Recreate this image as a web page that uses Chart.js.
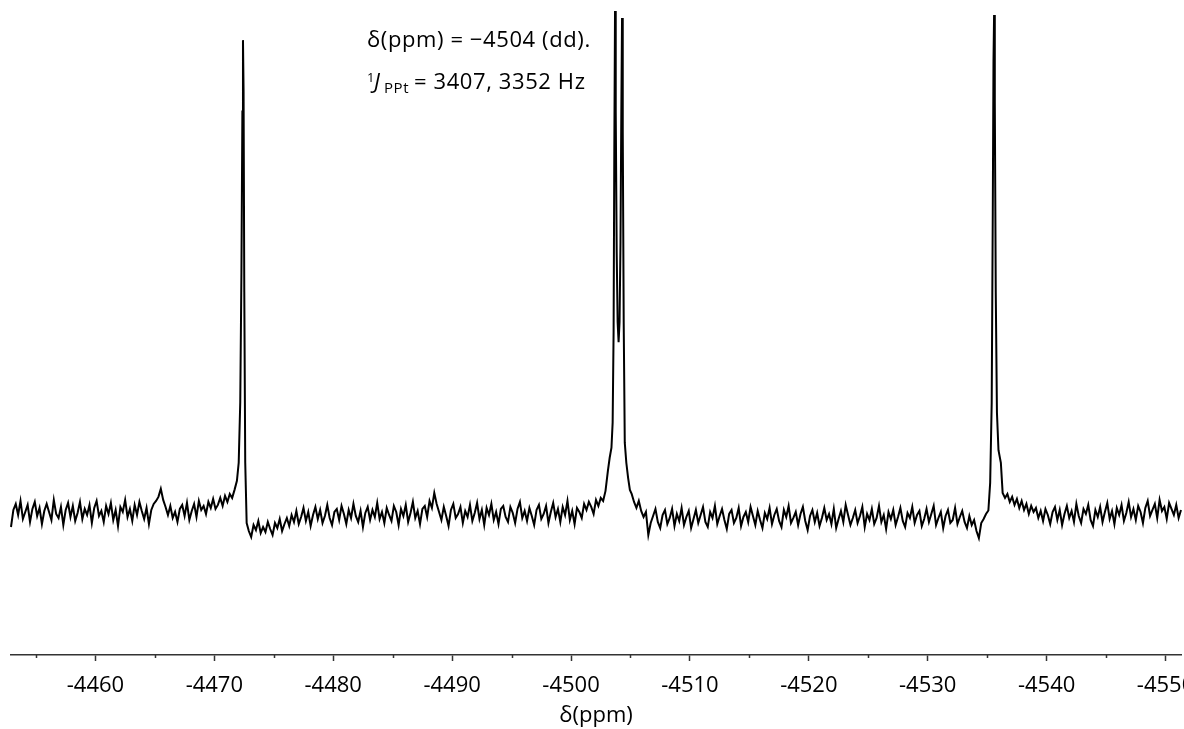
<!DOCTYPE html>
<html>
<head>
<meta charset="utf-8">
<script src="https://cdn.jsdelivr.net/npm/chart.js@4.4.1/dist/chart.umd.min.js"></script>
<style>
  html, body { margin: 0; padding: 0; background: #fff; overflow: hidden; }
  #wrap { width: 1200px; height: 729px; }
</style>
</head>
<body>
<div id="wrap"><canvas id="spectrum" width="1200" height="729"></canvas></div>
<script>
// spectrum sampled every 0.2 ppm from -4452.9 ppm, intensity in % of tallest line
// null = region covered by the peak lists below
const shiftStart = -4452.9;
const shiftStep = -0.2;
const baseline = [
  -2.8, 0.6, 1.8, -0.4, 2.4, -1.2, 0.2, 1.6, -1.8, 0.8,
  2.2, -0.6, 1.0, -2.2, 0.4, 1.8, 0.2, -1.4, 2.6, -0.2,
  -1.0, 1.2, -2.4, 0.6, 2.0, -0.8, 1.4, -1.6, 0.0, 2.2,
  -1.2, 0.8, -0.4, 1.6, -2.0, 1.0, 2.4, -0.6, 0.4, -1.8,
  1.4, -0.2, 2.0, -1.4, 0.6, -2.6, 1.2, 0.2, 2.6, -0.8,
  0.8, -1.6, 1.6, -0.4, 2.2, 0.4, -1.2, 1.0, -2.2, 0.6,
  1.8, 2.4, 3.2, 4.8, 2.6, 1.2, -0.4, 1.4, -1.0, 0.2,
  -1.8, 0.8, 1.6, -0.6, 2.0, -1.4, 0.4, 1.8, -0.8, 2.4,
  0.6, 1.4, -0.2, 2.2, 1.0, 2.8, 0.8, 1.6, 3.0, 1.4,
  3.4, 2.2, 3.8, 3.0, 4.6, 6.4, null, null, null, null,
  -3.6, -4.8, -2.4, -3.4, -1.6, -4.0, -2.8, -3.8, -1.8, -3.2,
  -4.4, -2.0, -3.0, -1.2, -3.6, -2.2, -1.0, -2.6, -0.4, -1.8,
  0.4, -2.2, -0.8, 1.0, -1.6, 0.2, -2.6, -0.4, 1.2, -1.2,
  0.6, -2.0, -0.6, 1.6, -1.0, -2.4, 0.2, 0.8, -1.4, 1.4,
  -0.2, -2.2, 0.6, -1.0, 1.8, -0.6, -1.8, 0.4, -2.8, 0.0,
  1.2, -1.4, 0.6, -0.8, 2.0, -1.2, 0.2, -2.0, 1.0, -0.4,
  -1.6, 1.4, 0.2, -2.4, 0.8, -0.6, 1.6, -1.8, 0.0, 2.2,
  -1.0, 0.4, -2.2, 0.8, 1.4, -0.8, 2.4, 1.0, 4.0, 1.8,
  0.2, -1.4, 1.2, -0.6, -2.6, 0.6, 1.8, -1.0, -0.2, 1.2,
  -2.0, 0.4, -0.8, 1.6, -1.6, 0.0, 2.0, -1.2, 0.6, -2.4,
  1.0, -0.4, 1.8, -1.4, 0.2, -2.2, 0.8, 1.4, -0.8, -1.8,
  1.2, 0.0, -2.0, 0.8, 2.2, -1.0, 0.4, -1.6, 1.0, -0.6,
  -2.4, 0.6, 1.6, -1.2, -0.2, 1.4, -2.0, 0.2, 2.0, -0.8,
  0.8, -1.8, 1.2, -0.4, 2.4, -1.4, 0.4, -2.2, 1.0, 0.2,
  -1.0, 1.8, 0.6, 2.2, 1.2, -0.2, 2.6, 1.4, 3.0, 2.4,
  4.4, 8.4, null, null, null, null, null, null, null, null,
  null, 3.8, 2.2, 1.0, 2.4, 0.4, -0.8, 0.2, -4.4, -2.0,
  -0.6, 0.8, -1.8, -3.0, -0.4, 0.6, -2.2, -1.0, 0.8, -2.6,
  -0.2, -1.6, 1.0, -2.4, -0.8, 0.4, -3.0, -1.2, 0.6, -2.0,
  -0.4, 1.2, -1.8, -2.8, 0.2, -1.0, 1.4, -2.2, -0.6, 0.8,
  -1.4, -3.2, -0.2, 0.6, -2.0, -1.0, 1.0, -2.6, -0.8, 0.2,
  -1.8, 1.2, -0.6, -2.4, 0.4, -1.4, -3.0, 0.0, -1.2, 1.0,
  -2.2, -0.4, 0.8, -1.6, -2.8, 0.6, -0.8, 1.4, -2.0, -1.0,
  0.2, -2.4, -0.2, 1.2, -1.6, -3.4, -0.6, 0.6, -1.8, 0.0,
  -2.6, -1.0, 1.0, -1.4, -0.2, -2.2, 0.8, -3.0, -1.2, 0.4,
  -1.8, 1.6, -0.4, -2.4, -1.0, 0.6, -2.0, -0.6, 1.2, -2.8,
  -0.2, -1.4, 0.8, -2.2, -1.0, 1.4, -1.8, -0.4, -3.2, 0.2,
  -1.2, 0.6, -2.4, -0.8, 1.0, -1.6, -2.8, 0.0, -1.0, 1.2,
  -2.0, -0.4, 0.4, -2.6, -1.2, 0.8, -1.8, -0.2, 1.4, -2.4,
  -1.0, 0.2, -3.0, -0.6, 0.6, -2.0, -1.4, 1.0, -2.2, -0.8,
  0.4, -1.8, -3.0, -0.6, -2.4, -1.4, -3.6, -5.0, -2.0, -1.2,
  -0.2, null, null, null, null, null, null, 4.0, 3.0, 3.8,
  2.2, 3.2, 1.6, 2.8, 1.0, 2.4, 0.6, 1.8, -0.2, 1.4,
  0.2, 1.0, -1.0, 0.4, -1.6, 0.8, -0.4, -2.2, 0.2, 1.2,
  -1.4, 0.6, -2.4, -0.2, 1.4, -1.0, 0.4, -1.8, 1.8, -0.6,
  -2.0, 0.8, -0.2, 1.6, -1.4, -2.6, 0.6, -0.8, 1.2, -1.8,
  0.2, 2.0, -1.2, 0.4, -2.2, 1.0, -0.4, 1.6, -1.6, 0.0,
  2.2, -0.8, 0.8, -1.4, 1.4, 0.2, -2.0, 1.0, 2.4, -0.6,
  0.6, 1.8, -1.0, 2.6, 0.4, 1.2, -1.2, 2.0, 0.8, -0.4,
  1.6, -1.0, 0.6
];

// the three resonances, read point by point
const peak1Shift = [-4472.05, -4472.18, -4472.28, -4472.36, -4472.41, -4472.46, -4472.52, -4472.60, -4472.72];
const peak1Int   = [10, 22, 48, 80, 94.2, 84, 44, 10, -2.0];

const peak2Shift = [-4503.25, -4503.40, -4503.50, -4503.58, -4503.64, -4503.70, -4503.76, -4503.84, -4503.92, -4504.00,
                    -4504.08, -4504.16, -4504.23, -4504.29, -4504.35, -4504.43, -4504.52, -4504.65, -4504.80, -4504.95];
const peak2Int   = [11, 13, 18, 36, 72, 100, 80, 52, 38, 34,
                    38, 54, 80, 98.6, 76, 38, 14, 10, 7, 4.6];

const peak3Shift = [-4535.10, -4535.25, -4535.38, -4535.47, -4535.53, -4535.58, -4535.64, -4535.72, -4535.82, -4535.95, -4536.15];
const peak3Int   = [0.5, 6, 22, 60, 90, 99.2, 82, 44, 20, 12.5, 10];

const tickValues = [-4460, -4470, -4480, -4490, -4500, -4510, -4520, -4530, -4540, -4550];
const minorTicks = [-4455, -4465, -4475, -4485, -4495, -4505, -4515, -4525, -4535, -4545];

const points = [];
baseline.forEach((v, i) => {
    if (v !== null) points.push({ x: +(shiftStart + i * shiftStep).toFixed(2), y: v });
});
[[peak1Shift, peak1Int], [peak2Shift, peak2Int], [peak3Shift, peak3Int]].forEach(([s, h]) => {
    s.forEach((x, k) => points.push({ x: x, y: h[k] }));
});
points.sort((a, b) => b.x - a.x);

const FONT = 'Open Sans';

const extras = {
    id: 'extras',
    afterDraw(chart) {
        const c = chart.ctx;
        const xs = chart.scales.x;
        c.save();
        // minor ticks
        c.strokeStyle = '#333';
        c.lineWidth = 1.5;
        minorTicks.forEach(v => {
            const px = Math.round(xs.getPixelForValue(v)) + 0.5;
            c.beginPath();
            c.moveTo(px, xs.top);
            c.lineTo(px, xs.top + 3);
            c.stroke();
        });
        // annotation
        c.fillStyle = '#000';
        c.textBaseline = 'alphabetic';
        c.letterSpacing = '0.6px';
        c.font = '22px "' + FONT + '"';
        c.fillText('\u03B4(ppm) = \u22124504 (dd).', 367, 47);
        c.font = '13px "' + FONT + '"';
        c.fillText('1', 367, 82);
        c.font = 'italic 22px "' + FONT + '"';
        c.fillText('J', 374, 89);
        c.font = '15px "' + FONT + '"';
        c.fillText('PPt', 384, 93);
        c.font = '22px "' + FONT + '"';
        c.fillText('= 3407, 3352 Hz', 414, 89);
        c.restore();
    }
};

const ctx = document.getElementById('spectrum').getContext('2d');
new Chart(ctx, {
    type: 'line',
    data: {
        datasets: [{
            data: points,
            borderColor: '#000',
            borderWidth: 2,
            pointRadius: 0,
            tension: 0,
            fill: false,
            clip: false
        }]
    },
    options: {
        responsive: false,
        animation: false,
        devicePixelRatio: 1,
        layout: { padding: { left: 11, right: 19, top: 5, bottom: 0 } },
        plugins: { legend: { display: false }, tooltip: { enabled: false } },
        scales: {
            x: {
                type: 'linear',
                reverse: true,
                min: -4551.3,
                max: -4452.9,
                afterBuildTicks: s => { s.ticks = tickValues.map(v => ({ value: v })); },
                afterFit: s => {
                    s.height = 74;
                    s.paddingLeft = 0;
                    s.paddingRight = 0;
                },
                border: { display: true, color: '#333', width: 1.5 },
                grid: { drawOnChartArea: false, drawTicks: true, tickLength: 6, tickColor: '#333', tickWidth: 1.5 },
                ticks: {
                    autoSkip: false,
                    maxRotation: 0,
                    padding: 12,
                    color: '#000',
                    font: { family: FONT, size: 22 },
                    callback: v => String(v)
                },
                title: {
                    display: true,
                    text: '\u03B4(ppm)',
                    color: '#000',
                    font: { family: FONT, size: 22 },
                    padding: { top: 0, bottom: 0 }
                }
            },
            y: { display: false, min: -28.3, max: 101.2 }
        }
    },
    plugins: [extras]
});
</script>
</body>
</html>
